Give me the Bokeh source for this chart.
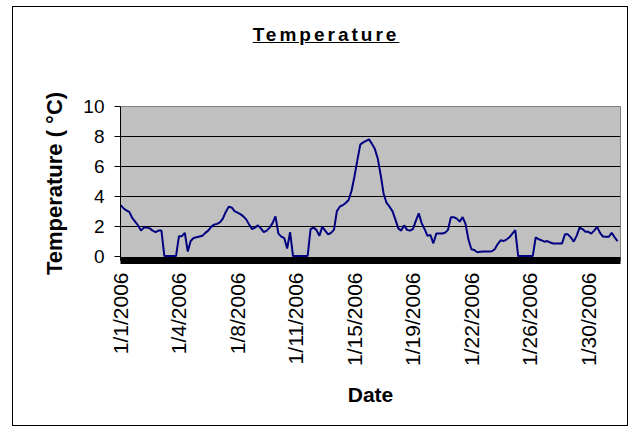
from bokeh.plotting import figure
from bokeh.models import Div, FixedTicker, Range1d, ColumnDataSource
from bokeh.layouts import column
from bokeh.embed import file_html
from bokeh.resources import INLINE

# Temperature readings (°C), one per sample on the category axis
temps = [
    3.4, 3.2, 3.05, 2.95, 2.55, 2.3, 2.05, 1.7, 1.9, 1.9,
    1.85, 1.7, 1.6, 1.7, 1.7, 0, 0, 0, 0, 0,
    1.33, 1.33, 1.55, 0.3, 1.0, 1.2, 1.25, 1.3, 1.35, 1.55,
    1.7, 1.95, 2.1, 2.15, 2.25, 2.5, 2.95, 3.3, 3.25, 3.0,
    2.9, 2.8, 2.65, 2.45, 2.1, 1.8, 1.9, 2.05, 1.85, 1.6,
    1.7, 1.9, 2.2, 2.65, 1.5, 1.3, 1.2, 0.5, 1.6, 0,
    0, 0, 0, 0, 0, 1.8, 1.9, 1.75, 1.35, 1.95,
    1.7, 1.45, 1.55, 1.75, 3.0, 3.3, 3.4, 3.55, 3.75, 4.35,
    5.3, 6.4, 7.45, 7.6, 7.7, 7.8, 7.5, 7.15, 6.5, 5.4,
    4.15, 3.55, 3.3, 3.0, 2.45, 1.85, 1.7, 2.05, 1.75, 1.7,
    1.8, 2.35, 2.85, 2.2, 1.8, 1.35, 1.4, 0.85, 1.5, 1.5,
    1.5, 1.55, 1.75, 2.6, 2.6, 2.5, 2.3, 2.6, 2.15, 1.1,
    0.45, 0.4, 0.25, 0.28, 0.3, 0.3, 0.3, 0.32, 0.45, 0.8,
    1.05, 1.0, 1.1, 1.25, 1.5, 1.73, 0, 0, 0, 0,
    0, 0, 1.25, 1.12, 1.05, 0.96, 1.0, 0.9, 0.84, 0.84,
    0.84, 0.84, 1.45, 1.45, 1.25, 0.96, 1.35, 1.9, 1.8, 1.62,
    1.62, 1.5, 1.7, 1.95, 1.55, 1.3, 1.29, 1.29, 1.55, 1.25,
    1.0,
]
sample = list(range(len(temps)))

# Category-axis labels and the sample index each one sits at
date_labels = ["1/1/2006", "1/4/2006", "1/8/2006", "1/11/2006", "1/15/2006",
               "1/19/2006", "1/22/2006", "1/26/2006", "1/30/2006"]
label_index = [0, 20, 40, 60, 80, 100, 120, 140, 160]
y_ticks = [0, 2, 4, 6, 8, 10]
grid_ticks = [2, 4, 6, 8]

FONT = "Liberation Sans"

source = ColumnDataSource(data=dict(sample=sample, temp=temps))

p = figure(
    frame_width=500, frame_height=154,
    x_range=Range1d(0, 171), y_range=Range1d(-0.3, 10),
    output_backend="svg", toolbar_location=None,
    min_border_left=107, min_border_right=7, min_border_top=45, min_border_bottom=165,
    background_fill_color="#C0C0C0", border_fill_color="white",
    outline_line_color="#808080", outline_line_width=1,
    margin=0,
)

p.line("sample", "temp", source=source, line_color="#000080", line_width=2)

# x axis
p.xaxis.ticker = FixedTicker(ticks=label_index)
p.xaxis.major_label_overrides = {i: lab for i, lab in zip(label_index, date_labels)}
p.xaxis.major_label_orientation = 3.14159265 / 2
p.xaxis.major_tick_out = 0
p.xaxis.major_tick_in = 0
p.xaxis.minor_tick_out = 0
p.xaxis.minor_tick_in = 0
p.xaxis.axis_line_color = "black"
p.xaxis.axis_line_width = 7
p.xaxis.major_label_standoff = 12
p.xaxis.major_label_text_font = FONT
p.xaxis.major_label_text_font_size = "21px"
p.xaxis.major_label_text_color = "black"
p.xaxis.axis_label = "Date"
p.xaxis.axis_label_text_font = FONT
p.xaxis.axis_label_text_font_style = "bold"
p.xaxis.axis_label_text_font_size = "21px"
p.xaxis.axis_label_text_color = "black"
p.xaxis.axis_label_standoff = 14

# y axis
p.yaxis.ticker = FixedTicker(ticks=y_ticks)
p.yaxis.major_tick_out = 6
p.yaxis.major_tick_in = 0
p.yaxis.minor_tick_out = 0
p.yaxis.minor_tick_in = 0
p.yaxis.major_tick_line_color = "black"
p.yaxis.axis_line_color = "black"
p.yaxis.major_label_standoff = 10
p.yaxis.major_label_text_font = FONT
p.yaxis.major_label_text_font_size = "19px"
p.yaxis.major_label_text_color = "black"
p.yaxis.axis_label = "Temperature ( °C)"
p.yaxis.axis_label_text_font = FONT
p.yaxis.axis_label_text_font_style = "bold"
p.yaxis.axis_label_text_font_size = "22px"
p.yaxis.axis_label_text_color = "black"
p.yaxis.axis_label_standoff = 13

p.xgrid.visible = False
p.ygrid.ticker = FixedTicker(ticks=grid_ticks)
p.ygrid.grid_line_color = "black"
p.ygrid.grid_line_width = 1

title = Div(
    text=("<div style=\"width:614px;text-align:center;padding-top:14px;padding-left:12px;"
          "box-sizing:border-box;font-family:'Liberation Sans';font-weight:bold;"
          "font-size:19px;letter-spacing:3px;text-decoration:underline;color:black;\">"
          "Temperature</div>"),
    width=614, height=54, margin=0,
)

layout = column(title, p, spacing=0, margin=(6, 0, 0, 12),
                styles={"border": "1px solid black", "background-color": "white"})

open("out.html", "w").write(file_html(layout, INLINE))
